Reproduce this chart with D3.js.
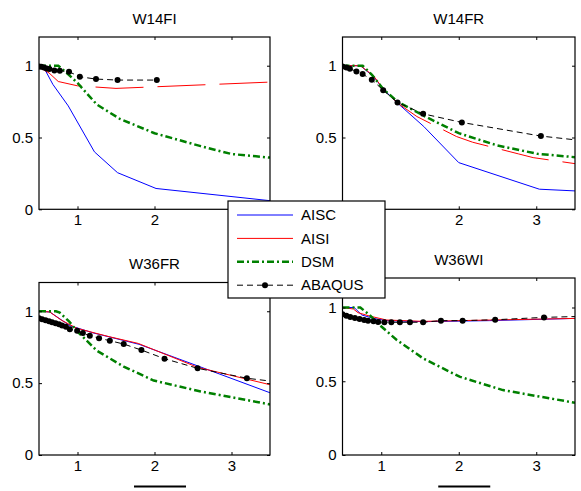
<!DOCTYPE html>
<meta charset="utf-8">
<head>
    <script type="text/javascript" src="https://cdn.jsdelivr.net/npm/d3@7"></script>
    <style>
        body { margin: 0; background: #fff; }
        text { font-family: Arial, "Liberation Sans", sans-serif; font-size: 15px; fill: #000; }
    </style>
</head>
<body>
<div id="chart"></div>
</body>

<script>
    // panel titles, series names and ticks
    var titles = ["W14FI", "W14FR", "W36FR", "W36WI"];
    var seriesNames = ["AISC", "AISI", "DSM", "ABAQUS"];
    var xTicks = [1, 2, 3];
    var yTicks = [0, 0.5, 1];
    var xDomain = [0.5, 3.5];
    var yDomain = [0, 1.2];
    // tick labels that sit under the legend box in the reference
    var hiddenXLabels = [[3], [1], [], []];
    var hiddenYLabels = [[], [0], [], []];

    // W14FI
    var w14fiAisc = [[0.5, 1.0], [0.58, 0.97], [0.68, 0.87], [0.88, 0.72], [1.22, 0.40], [1.52, 0.255], [2.02, 0.145], [3.5, 0.06]];
    var w14fiAisi = [[0.5, 0.99], [0.63, 0.95], [0.75, 0.89], [1.0, 0.86], [1.5, 0.842], [3.5, 0.886]];
    var w14fiDsm = [[0.5, 1.0], [0.75, 1.0], [0.88, 0.94], [1.0, 0.88], [1.25, 0.73], [1.55, 0.63], [2.0, 0.53], [2.6, 0.44], [3.0, 0.385], [3.5, 0.36]];
    var w14fiAbaqus = [[0.5, 0.995], [0.53, 0.993], [0.565, 0.988], [0.6, 0.981], [0.635, 0.977], [0.7, 0.967], [0.77, 0.965], [0.89, 0.958], [1.03, 0.923], [1.24, 0.907], [1.52, 0.9], [2.03, 0.9]];

    // W14FR
    var w14frAisc = [[0.5, 1.0], [0.73, 1.0], [0.9, 0.925], [1.03, 0.835], [1.21, 0.74], [1.55, 0.576], [2.0, 0.325], [3.04, 0.14], [3.5, 0.128]];
    var w14frAisi = [[0.5, 1.0], [0.73, 1.0], [0.9, 0.93], [1.03, 0.835], [1.21, 0.74], [1.46, 0.646], [1.97, 0.507], [2.18, 0.467], [2.77, 0.386], [2.96, 0.36], [3.5, 0.318]];
    var w14frDsm = [[0.5, 1.0], [0.76, 1.0], [0.88, 0.937], [1.025, 0.837], [1.21, 0.75], [1.55, 0.651], [2.0, 0.53], [2.5, 0.444], [3.02, 0.386], [3.5, 0.363]];
    var w14frAbaqus = [[0.5, 0.995], [0.55, 0.988], [0.595, 0.979], [0.68, 0.96], [0.76, 0.942], [0.878, 0.902], [1.025, 0.83], [1.21, 0.744], [1.54, 0.665], [2.04, 0.605], [3.06, 0.51], [3.6, 0.478]];

    // W36FR
    var w36frAisc = [[0.5, 1.0], [0.64, 0.995], [0.9, 0.9], [1.2, 0.85], [1.8, 0.77], [2.56, 0.62], [3.5, 0.433]];
    var w36frAisi = [[0.5, 1.0], [0.64, 0.995], [0.79, 0.938], [0.99, 0.882], [1.23, 0.848], [1.42, 0.822], [1.79, 0.776], [2.56, 0.61], [3.5, 0.489]];
    var w36frDsm = [[0.5, 1.0], [0.72, 1.0], [0.77, 0.99], [0.89, 0.93], [0.99, 0.864], [1.25, 0.726], [1.6, 0.615], [1.99, 0.518], [2.6, 0.442], [3.5, 0.352]];
    var w36frAbaqus = [[0.5, 0.951], [0.54, 0.944], [0.585, 0.938], [0.63, 0.931], [0.67, 0.924], [0.715, 0.917], [0.76, 0.91], [0.8, 0.901], [0.85, 0.892], [0.9, 0.875], [0.995, 0.864], [1.07, 0.848], [1.16, 0.829], [1.28, 0.813], [1.42, 0.795], [1.6, 0.772], [1.83, 0.73], [2.13, 0.67], [2.56, 0.603], [3.2, 0.534], [3.6, 0.508]];

    // W36WI
    var w36wiAisc = [[0.5, 1.0], [0.65, 1.0], [0.75, 0.949], [0.9, 0.926], [1.07, 0.911], [1.54, 0.904], [2.4, 0.911], [3.5, 0.926]];
    var w36wiAisi = [[0.5, 1.0], [0.64, 0.99], [0.7, 0.965], [0.85, 0.942], [1.07, 0.915], [1.54, 0.906], [2.4, 0.915], [3.5, 0.926]];
    var w36wiDsm = [[0.5, 1.0], [0.73, 1.0], [0.85, 0.949], [0.98, 0.881], [1.2, 0.78], [1.54, 0.655], [2.01, 0.531], [2.57, 0.44], [3.5, 0.354]];
    var w36wiAbaqus = [[0.5, 0.954], [0.55, 0.944], [0.6, 0.935], [0.66, 0.929], [0.72, 0.922], [0.78, 0.915], [0.83, 0.911], [0.9, 0.906], [0.96, 0.902], [1.04, 0.9], [1.13, 0.9], [1.24, 0.9], [1.37, 0.9], [1.54, 0.9], [1.77, 0.911], [2.05, 0.911], [2.47, 0.917], [3.1, 0.933], [3.6, 0.94]];

    var panelData = [
        [w14fiAisc, w14fiAisi, w14fiDsm, w14fiAbaqus],
        [w14frAisc, w14frAisi, w14frDsm, w14frAbaqus],
        [w36frAisc, w36frAisi, w36frDsm, w36frAbaqus],
        [w36wiAisc, w36wiAisi, w36wiDsm, w36wiAbaqus]
    ];

    // layout of the four axes boxes
    var frames = [
        {x: 39, y: 37, w: 231, h: 172.3},
        {x: 342.5, y: 37, w: 232.5, h: 172.3},
        {x: 39, y: 282.5, w: 231, h: 172.5},
        {x: 342.5, y: 278, w: 232.5, h: 177}
    ];

    var styles = [
        {color: "#0000ff", width: 1, dash: null},
        {color: "#ff0000", width: 1, dash: null},
        {color: "#008000", width: 2.5, dash: "7,3,2,3"},
        {color: "#000000", width: 1, dash: "6,4"}
    ];
    // the red curve shows long breaks in the upper panels
    var redDash = ["48,14", "48,14", null, null];

    var width = 581, height = 491;

    var svg = d3.select('#chart')
        .append('svg')
        .attr('width', width)
        .attr('height', height);

    frames.forEach(function (f, i) {
        var x = d3.scaleLinear().domain(xDomain).range([f.x, f.x + f.w]);
        var y = d3.scaleLinear().domain(yDomain).range([f.y + f.h, f.y]);
        var g = svg.append("g");

        g.append("clipPath").attr("id", "clip" + i)
            .append("rect").attr("x", f.x).attr("y", f.y).attr("width", f.w).attr("height", f.h);

        var line = d3.line().x(d => x(d[0])).y(d => y(d[1]));
        var plot = g.append("g").attr("clip-path", "url(#clip" + i + ")");

        panelData[i].forEach(function (s, j) {
            var st = styles[j];
            var dash = j === 1 ? redDash[i] : st.dash;
            plot.append("path")
                .datum(s)
                .attr("d", line)
                .attr("fill", "none")
                .attr("stroke", st.color)
                .attr("stroke-width", st.width)
                .attr("stroke-dasharray", dash);
        });
        plot.selectAll("circle.pt")
            .data(panelData[i][3])
            .enter().append("circle")
            .attr("cx", d => x(d[0]))
            .attr("cy", d => y(d[1]))
            .attr("r", 3)
            .attr("fill", "#000");

        // axes with inward ticks on all four sides
        var hx = hiddenXLabels[i], hy = hiddenYLabels[i];
        g.append("g").attr("transform", "translate(0," + (f.y + f.h) + ")")
            .call(d3.axisBottom(x).tickValues(xTicks).tickSizeInner(-3).tickSizeOuter(0).tickPadding(5)
                .tickFormat(d => hx.indexOf(d) >= 0 ? "" : d3.format("")(d)));
        g.append("g").attr("transform", "translate(" + f.x + ",0)")
            .call(d3.axisLeft(y).tickValues(yTicks).tickSizeInner(-3).tickSizeOuter(0).tickPadding(6)
                .tickFormat(d => hy.indexOf(d) >= 0 ? "" : d3.format("")(d)));
        g.append("g").attr("transform", "translate(0," + f.y + ")")
            .call(d3.axisTop(x).tickValues(xTicks).tickSizeInner(-3).tickSizeOuter(0).tickFormat(""));
        g.append("g").attr("transform", "translate(" + (f.x + f.w) + ",0)")
            .call(d3.axisRight(y).tickValues(yTicks).tickSizeInner(-3).tickSizeOuter(0).tickFormat(""));
        g.selectAll(".domain").remove();
        g.selectAll(".tick line").attr("stroke", "#000");
        g.selectAll(".tick text").attr("font-size", null).attr("font-family", null);
        g.selectAll(".tick text").filter(function () { return this.textContent === ""; }).remove();

        g.append("rect")
            .attr("x", f.x).attr("y", f.y).attr("width", f.w).attr("height", f.h)
            .attr("fill", "none").attr("stroke", "#000").attr("stroke-width", 1.2);

        g.append("text")
            .attr("x", f.x + f.w / 2)
            .attr("y", f.y - 13.5)
            .attr("text-anchor", "middle")
            .text(titles[i]);

        // clipped x label remnant under the lower panels
        if (i >= 2) {
            g.append("rect")
                .attr("x", f.x + f.w / 2 - 20.5)
                .attr("y", 485.5)
                .attr("width", 52)
                .attr("height", 2)
                .attr("fill", "#000");
        }
    });

    // legend
    var leg = svg.append("g").attr("transform", "translate(228,201)");
    leg.append("rect")
        .attr("width", 157).attr("height", 97)
        .attr("fill", "#fff").attr("stroke", "#000").attr("stroke-width", 1.2);
    seriesNames.forEach(function (name, j) {
        var yy = 14 + j * 23.4;
        var st = styles[j];
        leg.append("line")
            .attr("x1", 9).attr("x2", 65).attr("y1", yy).attr("y2", yy)
            .attr("stroke", st.color).attr("stroke-width", st.width)
            .attr("stroke-dasharray", st.dash);
        if (j === 3) {
            leg.append("circle").attr("cx", 37).attr("cy", yy).attr("r", 3).attr("fill", "#000");
        }
        leg.append("text")
            .attr("x", 73).attr("y", yy)
            .attr("dy", "0.35em")
            .text(name);
    });
</script>
</html>
